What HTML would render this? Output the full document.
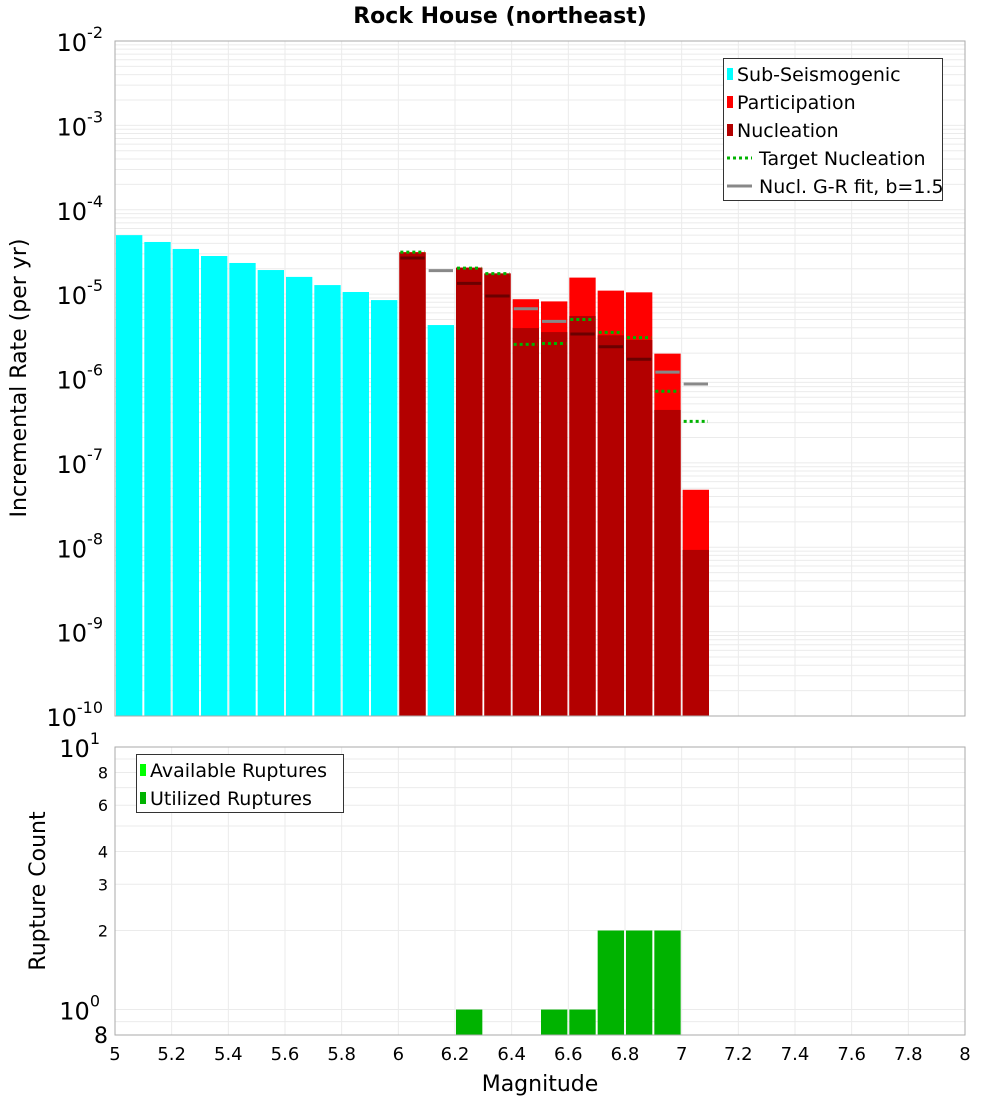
<!DOCTYPE html>
<html><head><meta charset="utf-8"><style>
body{margin:0;background:#fff;}
svg{display:block;font-family:"DejaVu Sans","Liberation Sans",sans-serif;}
</style></head><body>
<svg id="c" width="1000" height="1100"></svg>
<script>
const subMags=[5.0,5.1,5.2,5.3,5.4,5.5,5.6,5.7,5.8,5.9,6.1];
const subVals=[5.0e-5,4.15e-5,3.43e-5,2.83e-5,2.34e-5,1.93e-5,1.60e-5,1.28e-5,1.06e-5,8.5e-6,4.3e-6];
const mags=[6.0,6.2,6.3,6.4,6.5,6.6,6.7,6.8,6.9,7.0];
const partVals=[3.15e-5,2.06e-5,1.76e-5,8.7e-6,8.2e-6,1.57e-5,1.10e-5,1.05e-5,1.97e-6,4.8e-8];
const nuclVals=[3.1e-5,2.06e-5,1.76e-5,3.96e-6,3.55e-6,5.5e-6,3.25e-6,2.86e-6,4.24e-7,9.3e-9];
const targetVals=[3.15e-5,2.03e-5,1.75e-5,2.54e-6,2.6e-6,5.0e-6,3.52e-6,3.05e-6,7.05e-7,3.1e-7];
const grMags=[6.0,6.1,6.2,6.3,6.4,6.5,6.6,6.7,6.8,6.9,7.0];
const grVals=[2.68e-5,1.9e-5,1.34e-5,9.5e-6,6.7e-6,4.76e-6,3.37e-6,2.38e-6,1.69e-6,1.19e-6,8.6e-7];
const cntMags=[6.2,6.5,6.6,6.7,6.8,6.9];
const cntVals=[1,1,1,2,2,2];
const xTicks=[5,5.2,5.4,5.6,5.8,6,6.2,6.4,6.6,6.8,7,7.2,7.4,7.6,7.8,8];
const xTickLabels=["5","5.2","5.4","5.6","5.8","6","6.2","6.4","6.6","6.8","7","7.2","7.4","7.6","7.8","8"];
const yExps=[-2,-3,-4,-5,-6,-7,-8,-9,-10];
const cntTicks=[8,6,4,3,2,0.8];

const svg=document.getElementById('c');
const NS='http://www.w3.org/2000/svg';
function mk(tag,attrs,parent){const e=document.createElementNS(NS,tag);for(const k in attrs)e.setAttribute(k,attrs[k]);(parent||svg).appendChild(e);return e;}
const L=115,R=965,T1=41,B1=716,T2=747,B2=1035;
const X=m=>L+(m-5)*(R-L)/3;
const Y1=v=>T1+(-2-Math.log10(v))*(B1-T1)/8;
const Y2=v=>B2-(Math.log10(v)-Math.log10(0.8))*(B2-T2)/(1-Math.log10(0.8));

// backgrounds & grids
for(const [t,b] of [[T1,B1],[T2,B2]]){
  const g=mk('g',{});
  
  
  for(const m of xTicks){mk('line',{x1:X(m),x2:X(m),y1:t,y2:b,stroke:'#ebebeb','stroke-width':1},g);}
}
const g1=mk('g',{});


for(let e=-10;e<-2;e++){for(let k=1;k<10;k++){const v=k*Math.pow(10,e);mk('line',{x1:L,x2:R,y1:Y1(v),y2:Y1(v),stroke:'#ebebeb','stroke-width':1},g1);}}
const g2=mk('g',{});


for(const v of [0.8,0.9,1,2,3,4,5,6,7,8,9]){mk('line',{x1:L,x2:R,y1:Y2(v),y2:Y2(v),stroke:'#ebebeb','stroke-width':1},g2);}

const bw=(X(5.1)-X(5))-2;
// sub-seismogenic
subMags.forEach((m,i)=>{const r=mk('rect',{x:X(m)+1,y:Y1(subVals[i]),width:bw,height:B1-Y1(subVals[i]),fill:'#00ffff'});

});
mags.forEach((m,i)=>{
  const p=mk('rect',{x:X(m)+1,y:Y1(partVals[i]),width:bw,height:B1-Y1(partVals[i]),fill:'#ff0000'});
  
  
  const n=mk('rect',{x:X(m)+1,y:Y1(nuclVals[i]),width:bw,height:B1-Y1(nuclVals[i]),fill:'#b30000'});
  
  
});
grMags.forEach((m,i)=>{const inBar=mags.indexOf(m)>=0&&nuclVals[mags.indexOf(m)]>=grVals[i];
  const l=mk('line',{x1:X(m)+2,x2:X(m+0.1)-2,y1:Y1(grVals[i]),y2:Y1(grVals[i]),stroke:inBar?'#6b0000':'#888888','stroke-width':3});
  
  });
mags.forEach((m,i)=>{const l=mk('line',{x1:X(m)+2,x2:X(m+0.1)-2,y1:Y1(targetVals[i]),y2:Y1(targetVals[i]),stroke:'#00b300','stroke-width':3,'stroke-dasharray':'3,3'});
  
  });
cntMags.forEach((m,i)=>{const r=mk('rect',{x:X(m)+1,y:Y2(cntVals[i]),width:bw,height:B2-Y2(cntVals[i]),fill:'#00b300'});
  
  });

// frames
for(const [t,b,n] of [[T1,B1,'top-plot-frame'],[T2,B2,'bottom-plot-frame']]){const f=mk('rect',{x:L,y:t,width:R-L,height:b-t,fill:'none',stroke:'#aaaaaa','stroke-width':1});
}

// ticks labels
function txt(s,x,y,attrs,name){const t=mk('text',Object.assign({x:x,y:y},attrs));t.textContent=s;return t;}
yExps.forEach(e=>{const y=Y1(Math.pow(10,e));const t=txt('10',103,y+10,{'font-size':24,'text-anchor':'end',fill:'#000'},'y-tick-label');
  const s=mk('tspan',{'font-size':16,dy:-13});s.textContent=String(e);t.appendChild(s);});
[[10,'1'],[1,'0']].forEach(([v,e])=>{const y=Y2(v);const t=txt('10',100,y+10,{'font-size':24,'text-anchor':'end',fill:'#000'},'count-tick-label');
  const s=mk('tspan',{'font-size':16,dy:-13});s.textContent=e;t.appendChild(s);});
cntTicks.forEach(v=>{const y=Y2(v);const big=v===0.8;txt(big?'8':String(v),108,y+(big?8:6),{'font-size':big?22:16,'text-anchor':'end'},'count-tick-label');});
xTicks.forEach((m,i)=>txt(xTickLabels[i],X(m),1060,{'font-size':18,'text-anchor':'middle'},'x-tick-label'));

txt('Rock House (northeast)',500,23,{'font-size':22,'font-weight':'bold','text-anchor':'middle'},'chart-title');
txt('Magnitude',540,1091,{'font-size':22,'text-anchor':'middle'},'x-axis-title');
txt('Incremental Rate (per yr)',26,378,{'font-size':22,'text-anchor':'middle',transform:'rotate(-90 26 378)'},'y-axis-title');
txt('Rupture Count',45,891,{'font-size':22,'text-anchor':'middle',transform:'rotate(-90 45 891)'},'count-axis-title');

// legends
const lg=mk('g',{});


mk('rect',{x:723.5,y:58.5,width:219,height:142,fill:'#fff',stroke:'#333','stroke-width':1},lg);
const items=[['Sub-Seismogenic','#00ffff','box'],['Participation','#ff0000','box'],['Nucleation','#b30000','box'],['Target Nucleation','#00b300','dot'],['Nucl. G-R fit, b=1.5','#888888','line']];
items.forEach((it,i)=>{const y=74+i*28;
  if(it[2]==='box')mk('rect',{x:727,y:y-6,width:6,height:12,fill:it[1]},lg);
  else mk('line',{x1:727,x2:752,y1:y,y2:y,stroke:it[1],'stroke-width':3,'stroke-dasharray':it[2]==='dot'?'3,3':'none'},lg);
  const t=mk('text',{x:it[2]==='box'?737:759,y:y+7,'font-size':19},lg);t.textContent=it[0];});
const lg2=mk('g',{});


mk('rect',{x:136.5,y:754.5,width:207,height:58,fill:'#fff',stroke:'#333','stroke-width':1},lg2);
[['Available Ruptures','#00ff00'],['Utilized Ruptures','#00b300']].forEach((it,i)=>{const y=770+i*28;
  mk('rect',{x:140,y:y-6,width:6,height:12,fill:it[1]},lg2);
  const t=mk('text',{x:150,y:y+7,'font-size':19},lg2);t.textContent=it[0];});
</script>
</body></html>
